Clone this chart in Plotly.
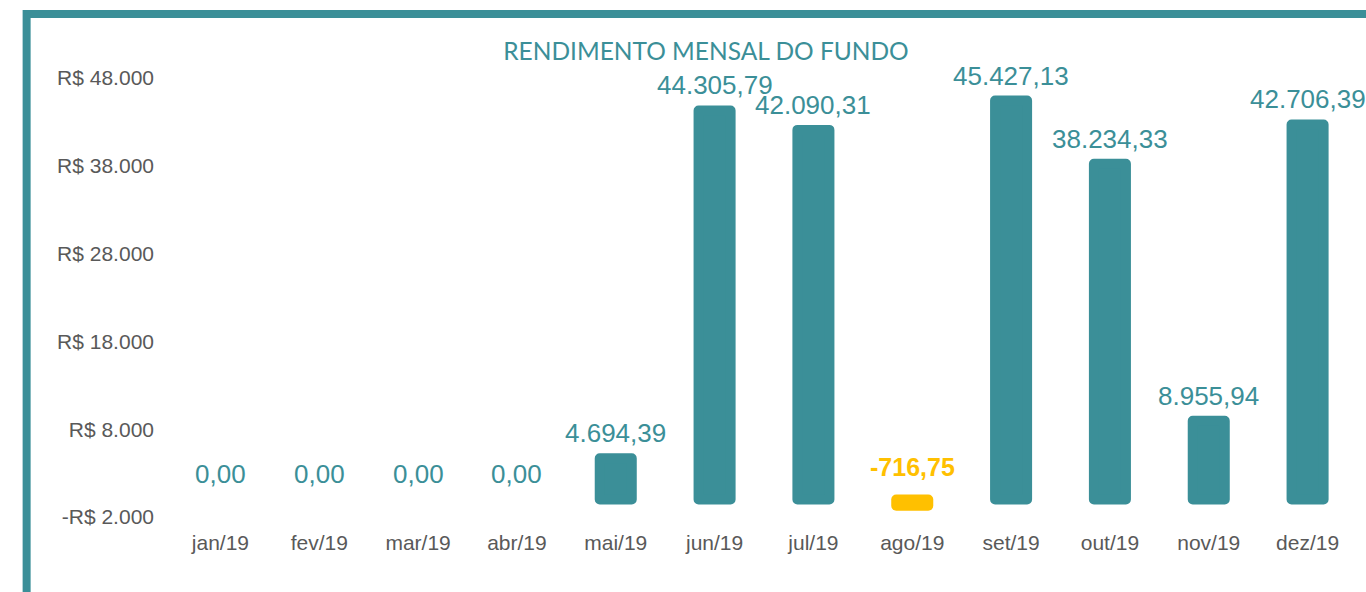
import plotly.graph_objects as go

months = ["jan/19", "fev/19", "mar/19", "abr/19", "mai/19", "jun/19",
          "jul/19", "ago/19", "set/19", "out/19", "nov/19", "dez/19"]
rendimento = [0.00, 0.00, 0.00, 0.00, 4694.39, 44305.79,
              42090.31, -716.75, 45427.13, 38234.33, 8955.94, 42706.39]
y_ticks = [-2000, 8000, 18000, 28000, 38000, 48000]

TEAL = "#3b8f98"
YELLOW = "#ffc000"
GREY = "#595959"
FW, FH = 1366, 592


def brl(v, decimals=2):
    s = f"{abs(v):,.{decimals}f}".replace(",", "X").replace(".", ",").replace("X", ".")
    return ("-" if v < 0 else "") + s


tick_text = [("-R$ " if t < 0 else "R$ ") + brl(abs(t), 0) for t in y_ticks]
colors = [YELLOW if v < 0 else TEAL for v in rendimento]
line_w = [0 if v == 0 else 10 for v in rendimento]

fig = go.Figure()
fig.add_trace(go.Bar(
    x=months, y=rendimento,
    marker=dict(color=colors, line=dict(color=colors, width=line_w)),
    hoverinfo="skip",
))

for m, v in zip(months, rendimento):
    neg = v < 0
    fig.add_annotation(
        x=m, y=max(v, 0), xref="x", yref="y",
        text=brl(v), showarrow=False,
        yanchor="middle", yshift=32 if neg else 25,
        font=dict(family="Liberation Sans, Arial, sans-serif", size=25 if neg else 26,
                  color=YELLOW if neg else TEAL,
                  weight="bold" if neg else "normal"),
    )

# plot area in page pixels
L, R, T, B = 170.5, 1357.5, 60, 520
W, H = R - L, B - T


def px(xp):
    return (xp - L) / W


def py(yp):
    return (B - yp) / H


fig.add_shape(type="rect", xref="paper", yref="paper",
              x0=px(26), x1=px(1420), y0=py(14), y1=py(650),
              line=dict(color=TEAL, width=8), fillcolor="rgba(0,0,0,0)", layer="below")

fig.update_layout(
    width=FW, height=FH,
    margin=dict(l=L, r=FW - R, t=T, b=FH - B, autoexpand=False),
    paper_bgcolor="white", plot_bgcolor="white",
    bargap=0.676, showlegend=False,
    title=dict(text="RENDIMENTO MENSAL DO FUNDO", x=706 / FW, xref="container",
               xanchor="center", y=1 - 51 / FH, yref="container", yanchor="middle",
               font=dict(family="Lato, sans-serif", size=24.5, color=TEAL)),
    xaxis=dict(range=[-0.5, 11.5], showgrid=False, zeroline=False, showline=False,
               tickfont=dict(family="Liberation Sans, Arial, sans-serif", size=21, color=GREY),
               ticklabelstandoff=8),
    yaxis=dict(range=[-2342, 50050], tickvals=y_ticks, ticktext=tick_text,
               showgrid=False, zeroline=False, showline=False,
               tickfont=dict(family="Liberation Sans, Arial, sans-serif", size=21, color=GREY),
               ticklabelstandoff=16),
)

page_js = (
    "document.body.style.margin='0';"
    "document.body.style.overflow='hidden';"
    "var s=document.createElement('style');"
    "s.textContent='.bars .point path{stroke-linejoin:round;}';"
    "document.head.appendChild(s);"
)
fig.write_html("out.html", post_script=page_js, config={"displayModeBar": False})
